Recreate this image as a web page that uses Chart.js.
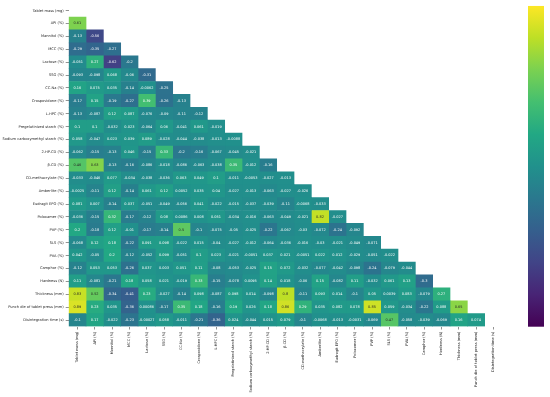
<!DOCTYPE html>
<html>
<head>
<meta charset="utf-8">
<script src="https://cdn.jsdelivr.net/npm/chart.js@4.4.1/dist/chart.umd.min.js"></script>
<style>
  html, body { margin: 0; padding: 0; background: #fff; }
  canvas { display: block; }
</style>
</head>
<body>
<canvas id="heatmap" width="550" height="397"></canvas>
<script>
// variables (rows and columns of the correlation matrix)
const labels = ['Tablet mass (mg)', 'API (%)', 'Mannitol (%)', 'MCC (%)', 'Lactose (%)', 'SSG (%)', 'CC-Na (%)',
  'Crospovidone (%)', 'L-HPC (%)', 'Pregelatinized starch (%)', 'Sodium carboxymethyl starch (%)', '2-HP-CD (%)',
  'β-CD (%)', 'CD-methacrylate (%)', 'Amberlite (%)', 'Eudragit EPO (%)', 'Poloxamer (%)', 'PVP (%)', 'SLS (%)',
  'PVA (%)', 'Camphor (%)', 'Hardness (N)', 'Thickness (mm)', 'Punch die of tablet press (mm)', 'Disintegration time (s)'];

// lower triangle, row i holds correlations with columns 0..i-1
const corr = [
  [],
  [0.61],
  [-0.13, -0.56],
  [-0.29, -0.35, -0.27],
  [-0.051, 0.27, -0.62, -0.2],
  [-0.093, -0.098, 0.068, -0.06, -0.31],
  [0.16, 0.075, 0.035, -0.14, -0.0062, -0.25],
  [-0.17, 0.15, -0.19, -0.27, 0.39, -0.26, -0.13],
  [-0.13, -0.087, 0.12, 0.087, -0.076, -0.09, -0.11, -0.12],
  [0.1, 0.1, -0.032, 0.023, -0.064, 0.06, -0.041, 0.061, -0.019],
  [0.058, -0.047, 0.023, 0.039, 0.089, -0.028, -0.044, -0.038, -0.013, -0.0088],
  [-0.062, -0.15, -0.13, 0.046, -0.15, 0.33, -0.2, -0.16, -0.067, -0.045, -0.021],
  [0.46, 0.63, -0.13, -0.16, -0.086, -0.018, -0.086, -0.063, -0.038, 0.35, -0.012, -0.16],
  [-0.033, -0.046, 0.077, -0.034, -0.038, -0.036, 0.063, 0.049, 0.1, -0.011, -0.0053, -0.027, -0.013],
  [-0.0025, -0.11, 0.12, -0.14, 0.061, 0.12, 0.0052, 0.035, 0.04, -0.027, -0.013, -0.063, -0.027, -0.026],
  [0.081, 0.007, -0.14, 0.037, -0.051, -0.049, -0.056, 0.041, -0.022, -0.015, -0.037, -0.039, -0.11, -0.0068, -0.033],
  [-0.036, -0.15, 0.32, -0.17, -0.12, 0.08, 0.0086, 0.008, 0.051, -0.034, -0.016, -0.063, -0.049, -0.021, 0.82, -0.027],
  [0.2, -0.18, 0.12, -0.01, -0.17, -0.14, 0.5, -0.1, -0.075, -0.05, -0.025, -0.22, -0.067, -0.03, -0.072, -0.24, -0.092],
  [-0.068, 0.12, 0.18, -0.22, 0.091, 0.098, -0.022, 0.015, -0.04, -0.027, -0.012, -0.064, -0.036, -0.016, -0.03, -0.021, -0.049, -0.071],
  [0.042, -0.05, 0.2, -0.12, -0.052, 0.099, -0.051, 0.1, 0.023, -0.021, -0.0051, 0.037, 0.021, -0.0051, 0.022, 0.012, -0.029, -0.051, -0.022],
  [-0.12, 0.053, 0.053, -0.26, 0.037, 0.003, 0.051, 0.11, -0.08, -0.053, -0.025, 0.15, 0.072, -0.032, -0.077, -0.042, -0.098, -0.24, -0.079, -0.044],
  [0.11, -0.081, -0.21, 0.18, 0.058, 0.021, -0.019, 0.33, -0.15, -0.078, 0.0095, 0.14, 0.018, -0.06, 0.15, -0.082, 0.11, -0.032, 0.061, 0.13, -0.3],
  [0.83, 0.52, -0.34, -0.41, 0.23, -0.027, -0.14, 0.098, -0.087, 0.098, 0.014, -0.098, 0.8, -0.11, 0.093, 0.014, -0.1, 0.05, 0.0039, 0.083, -0.079, 0.27],
  [0.89, 0.23, 0.035, -0.36, 0.00086, -0.17, 0.35, 0.18, -0.16, 0.19, 0.026, 0.18, 0.86, 0.29, 0.035, 0.082, 0.078, 0.85, 0.059, -0.034, -0.22, 0.088, 0.65],
  [-0.1, 0.17, -0.022, -0.23, -0.00027, 0.058, -0.011, -0.21, -0.36, 0.024, -0.044, 0.015, 0.079, -0.1, -0.0068, -0.013, -0.0031, -0.069, 0.47, -0.058, -0.039, -0.069, 0.16, 0.074]
];

const valueRange = [-1, 1];

// viridis colormap
const viridis = ['#440154', '#482475', '#414487', '#355f8d', '#2a788e', '#21918c', '#22a884', '#44bf70', '#7ad151', '#bddf26', '#fde725'];
const hexToRgb = h => [1, 3, 5].map(k => parseInt(h.substr(k, 2), 16));

function colourOf(v) {
  let t = (v - valueRange[0]) / (valueRange[1] - valueRange[0]);
  t = Math.max(0, Math.min(1, t)) * (viridis.length - 1);
  const k = Math.min(Math.floor(t), viridis.length - 2);
  const f = t - k;
  const a = hexToRgb(viridis[k]), b = hexToRgb(viridis[k + 1]);
  return a.map((c, n) => Math.round(c + (b[n] - c) * f));
}

function luminance(rgb) {
  const lin = rgb.map(c => { c /= 255; return c <= 0.03928 ? c / 12.92 : Math.pow((c + 0.055) / 1.055, 2.4); });
  return 0.2126 * lin[0] + 0.7152 * lin[1] + 0.0722 * lin[2];
}

// one dataset per column, one floating bar per cell
const datasets = labels.slice(0, -1).map((col, j) => ({
  label: col,
  data: labels.map((_, i) => j < i ? [j, j + 1] : null),
  backgroundColor: labels.map((_, i) => j < i ? 'rgb(' + colourOf(corr[i][j]).join(',') + ')' : 'rgba(0,0,0,0)'),
  borderWidth: 0,
  grouped: false,
  barPercentage: 1,
  categoryPercentage: 1
}));

const annotate = {
  id: 'annotate',
  afterDatasetsDraw(chart) {
    const ctx = chart.ctx;
    ctx.save();
    ctx.font = '3.5px "DejaVu Sans"';
    ctx.textAlign = 'center';
    ctx.textBaseline = 'middle';
    chart.data.datasets.forEach((ds, j) => {
      chart.getDatasetMeta(j).data.forEach((bar, i) => {
        if (j >= i) return;
        const v = corr[i][j];
        const p = bar.getProps(['x', 'y', 'base'], true);
        ctx.fillStyle = luminance(colourOf(v)) > 0.408 ? '#262626' : '#ffffff';
        ctx.fillText(String(v), (p.x + p.base) / 2, p.y);
      });
    });
    ctx.restore();
  }
};

const colourBar = {
  id: 'colourBar',
  afterDraw(chart) {
    const ctx = chart.ctx, area = chart.chartArea;
    const x = area.right + 26, w = 16, top = area.top + 1.8, bottom = area.bottom + 0.2;
    const g = ctx.createLinearGradient(0, bottom, 0, top);
    viridis.forEach((c, k) => g.addColorStop(k / (viridis.length - 1), c));
    ctx.save();
    ctx.fillStyle = g;
    ctx.fillRect(x, top, w, bottom - top);
    ctx.restore();
  }
};

const tickFont = { family: 'DejaVu Sans', size: 3.6 };
const axisGrid = { display: true, drawOnChartArea: false, drawTicks: true, tickLength: 3, color: '#262626', lineWidth: 0.5, offset: false };

new Chart(document.getElementById('heatmap').getContext('2d'), {
  type: 'bar',
  data: { labels: labels, datasets: datasets },
  options: {
    indexAxis: 'y',
    responsive: false,
    animation: false,
    layout: { padding: { top: 1.5, right: 48, left: 0, bottom: 0 } },
    plugins: { legend: { display: false }, tooltip: { enabled: false } },
    scales: {
      y: {
        type: 'category',
        grid: axisGrid,
        border: { display: false },
        ticks: { font: tickFont, color: '#262626', padding: 2, autoSkip: false },
        afterFit: s => { s.width = 68.7; }
      },
      x: {
        type: 'linear',
        min: 0,
        max: labels.length,
        grid: axisGrid,
        border: { display: false },
        afterBuildTicks: s => { s.ticks = labels.map((_, k) => ({ value: k + 0.5 })); },
        ticks: {
          font: tickFont, color: '#262626', padding: 2, autoSkip: false,
          minRotation: 90, maxRotation: 90,
          callback: (v, idx) => labels[idx]
        },
        afterFit: s => { s.height = 70.5; }
      }
    }
  },
  plugins: [annotate, colourBar]
});
</script>
</body>
</html>
